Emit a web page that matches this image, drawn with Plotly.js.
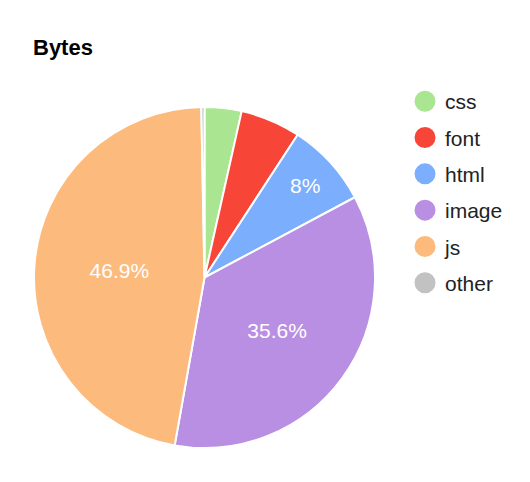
<!DOCTYPE html>
<html>
<head>
<meta charset="utf-8">
<script src="https://cdn.plot.ly/plotly-3.0.1.min.js"></script>
<style>html,body{margin:0;padding:0;background:#fff;}#chart{width:530px;height:482px;}</style>
</head>
<body>
<div id="chart"></div>
<script>
var labels = ['css', 'font', 'html', 'image', 'js', 'other'];
var values = [3.5, 5.7, 8.0, 35.6, 46.9, 0.3];
var colors = ['#aae591', '#f74638', '#7baefc', '#b98fe3', '#fcbb7d', '#c2c2c2'];
var shownText = ['', '', '%{percent}', '%{percent}', '%{percent}', ''];

var traces = [{
  type: 'pie',
  labels: labels,
  values: values,
  sort: false,
  direction: 'clockwise',
  rotation: 0,
  marker: {colors: colors, line: {color: '#ffffff', width: 2}},
  texttemplate: shownText,
  textposition: 'inside',
  insidetextorientation: 'horizontal',
  insidetextfont: {color: '#ffffff', size: 21, family: 'Liberation Sans, Arial, sans-serif'},
  hoverinfo: 'label+percent',
  showlegend: false,
  domain: {x: [0, 1], y: [0, 1]}
}];

labels.forEach(function (lab, i) {
  traces.push({
    type: 'scatter',
    mode: 'markers',
    x: [null], y: [null],
    name: lab,
    legendgroup: lab,
    marker: {color: colors[i], size: 16, line: {color: colors[i], width: 5}},
    hoverinfo: 'skip',
    showlegend: true
  });
});

var layout = {
  width: 530,
  height: 482,
  margin: {l: 34, r: 155, t: 107, b: 34},
  paper_bgcolor: '#ffffff',
  plot_bgcolor: '#ffffff',
  font: {family: 'Liberation Sans, Arial, sans-serif', color: '#222222'},
  title: {
    text: '<b>Bytes</b>',
    font: {size: 22, color: '#000000', family: 'Liberation Sans, Arial, sans-serif'},
    x: 33 / 530, xref: 'container', xanchor: 'left',
    y: 1 - 47 / 482, yref: 'container', yanchor: 'middle'
  },
  xaxis: {visible: false},
  yaxis: {visible: false},
  showlegend: true,
  legend: {
    x: 1.088, xanchor: 'left',
    y: 1.076, yanchor: 'top',
    traceorder: 'grouped',
    tracegroupgap: 6,
    font: {size: 21, color: '#222222', family: 'Liberation Sans, Arial, sans-serif'},
    bgcolor: 'rgba(0,0,0,0)'
  }
};

Plotly.newPlot('chart', traces, layout, {displayModeBar: false, staticPlot: false});
</script>
</body>
</html>
